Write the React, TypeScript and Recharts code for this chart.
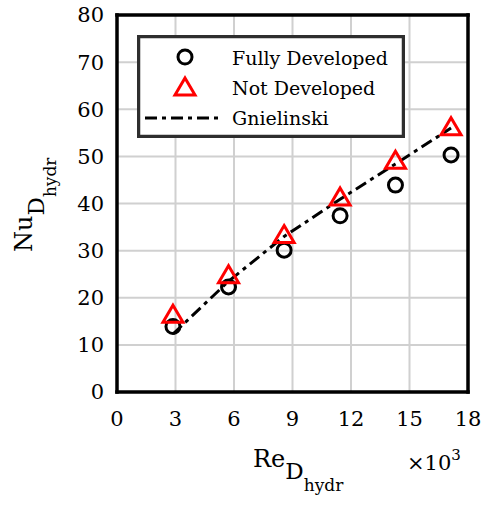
import React from 'react';
import { ComposedChart, Scatter, Line, XAxis, YAxis, CartesianGrid } from 'recharts';

// Re_D,hydr (x10^3) and Nu_D,hydr
const reynolds = [2.87, 5.72, 8.57, 11.44, 14.28, 17.13];
const fullyDeveloped = [13.9, 22.3, 30.1, 37.4, 43.9, 50.3];
const notDeveloped = [16.5, 24.9, 33.4, 41.4, 49.2, 56.3];
const gnielinski = [12.3, 23.5, 33.0, 40.9, 48.4, 56.0];

const xTicks = [0, 3, 6, 9, 12, 15, 18];
const yTicks = [0, 10, 20, 30, 40, 50, 60, 70, 80];
const seriesNames = ['Fully Developed', 'Not Developed', 'Gnielinski'];

const data = reynolds.map((re, i) => ({
  re,
  fd: fullyDeveloped[i],
  nd: notDeveloped[i],
  gn: gnielinski[i],
}));

const font = '"DejaVu Serif", serif';
const frame = { stroke: '#000', strokeWidth: 3.5, strokeLinecap: 'square' as const };
const dash = '12 5 4 5';

const CircleMark = (props: any) => {
  const { cx, cy } = props;
  return <circle cx={cx} cy={cy} r={7} fill="none" stroke="#000" strokeWidth={3} />;
};

const TriangleMark = (props: any) => {
  const { cx, cy } = props;
  return (
    <polygon
      points={`${cx},${cy - 9} ${cx + 10},${cy + 8} ${cx - 10},${cy + 8}`}
      fill="none"
      stroke="#f00"
      strokeWidth={3}
    />
  );
};

const XTitle = (props: any) => {
  const { viewBox } = props;
  const x0 = viewBox.x + 136;
  const y0 = viewBox.y + 75;
  return (
    <g fontFamily={font} fill="#000">
      <text x={x0} y={y0} fontSize={24}>
        Re
        <tspan fontSize={23} dy={12}>D</tspan>
        <tspan fontSize={17} dy={12}>hydr</tspan>
      </text>
      <text x={viewBox.x + 290} y={y0 + 3} fontSize={21}>
        ×10
        <tspan fontSize={15} dy={-10}>3</tspan>
      </text>
    </g>
  );
};

const YTitle = () => (
  <g fontFamily={font} fill="#000">
    <text transform="translate(32,252) rotate(-90)" fontSize={24}>
      Nu
      <tspan fontSize={23} dy={12}>D</tspan>
      <tspan fontSize={17} dy={12}>hydr</tspan>
    </text>
  </g>
);

const LegendBox = () => (
  <svg
    width={268}
    height={103}
    style={{ position: 'absolute', left: 137, top: 35 }}
    fontFamily={font}
  >
    <rect x={1.5} y={1.5} width={265} height={100} fill="#fff" stroke="#2e2e2e" strokeWidth={3.5} />
    <CircleMark cx={48} cy={22} />
    <TriangleMark cx={48} cy={52} />
    <line x1={8} x2={83} y1={83} y2={83} stroke="#000" strokeWidth={3} strokeDasharray={dash} />
    <text x={95} y={30} fontSize={19}>{seriesNames[0]}</text>
    <text x={95} y={60} fontSize={19}>{seriesNames[1]}</text>
    <text x={95} y={90} fontSize={19}>{seriesNames[2]}</text>
  </svg>
);

export default function App() {
  return (
    <div style={{ position: 'absolute', left: 0, top: 0, width: 484, height: 508, background: '#fff' }}>
      <ComposedChart
        width={484}
        height={508}
        data={data}
        margin={{ top: 15, right: 16, bottom: 76, left: 0 }}
      >
        <CartesianGrid xAxisId="b" yAxisId="l" stroke="#d0d0d0" strokeWidth={2} />
        <XAxis
          xAxisId="b"
          dataKey="re"
          type="number"
          domain={[0, 18]}
          ticks={xTicks}
          interval={0}
          allowDataOverflow
          height={40}
          axisLine={frame}
          tickLine={false}
          tickSize={8}
          tickMargin={11}
          tick={{ fill: '#000', fontSize: 21, fontFamily: font }}
          label={<XTitle />}
        />
        <XAxis
          xAxisId="bm"
          dataKey="re"
          type="number"
          domain={[0, 18]}
          ticks={xTicks}
          interval={0}
          allowDataOverflow
          mirror
          axisLine={false}
          tickLine={frame}
          tickSize={6}
          tick={false}
        />
        <XAxis
          xAxisId="t"
          orientation="top"
          dataKey="re"
          type="number"
          domain={[0, 18]}
          ticks={xTicks}
          interval={0}
          allowDataOverflow
          mirror
          axisLine={frame}
          tickLine={frame}
          tickSize={6}
          tick={false}
        />
        <YAxis
          yAxisId="l"
          type="number"
          domain={[0, 80]}
          ticks={yTicks}
          interval={0}
          allowDataOverflow
          width={117}
          axisLine={frame}
          tickLine={false}
          tickSize={8}
          tickMargin={5}
          tick={{ fill: '#000', fontSize: 21, fontFamily: font }}
          label={<YTitle />}
        />
        <YAxis
          yAxisId="lm"
          type="number"
          domain={[0, 80]}
          ticks={yTicks}
          interval={0}
          allowDataOverflow
          mirror
          axisLine={false}
          tickLine={frame}
          tickSize={6}
          tick={false}
        />
        <YAxis
          yAxisId="r"
          orientation="right"
          type="number"
          domain={[0, 80]}
          ticks={yTicks}
          interval={0}
          allowDataOverflow
          mirror
          axisLine={frame}
          tickLine={frame}
          tickSize={6}
          tick={false}
        />
        <Scatter
          name={seriesNames[0]}
          xAxisId="b"
          yAxisId="l"
          dataKey="fd"
          shape={CircleMark}
          isAnimationActive={false}
        />
        <Scatter
          name={seriesNames[1]}
          xAxisId="b"
          yAxisId="l"
          dataKey="nd"
          shape={TriangleMark}
          isAnimationActive={false}
        />
        <Line
          name={seriesNames[2]}
          xAxisId="b"
          yAxisId="l"
          dataKey="gn"
          type="linear"
          stroke="#000"
          strokeWidth={3}
          strokeDasharray={dash}
          dot={false}
          activeDot={false}
          isAnimationActive={false}
        />
      </ComposedChart>
      <LegendBox />
    </div>
  );
}
